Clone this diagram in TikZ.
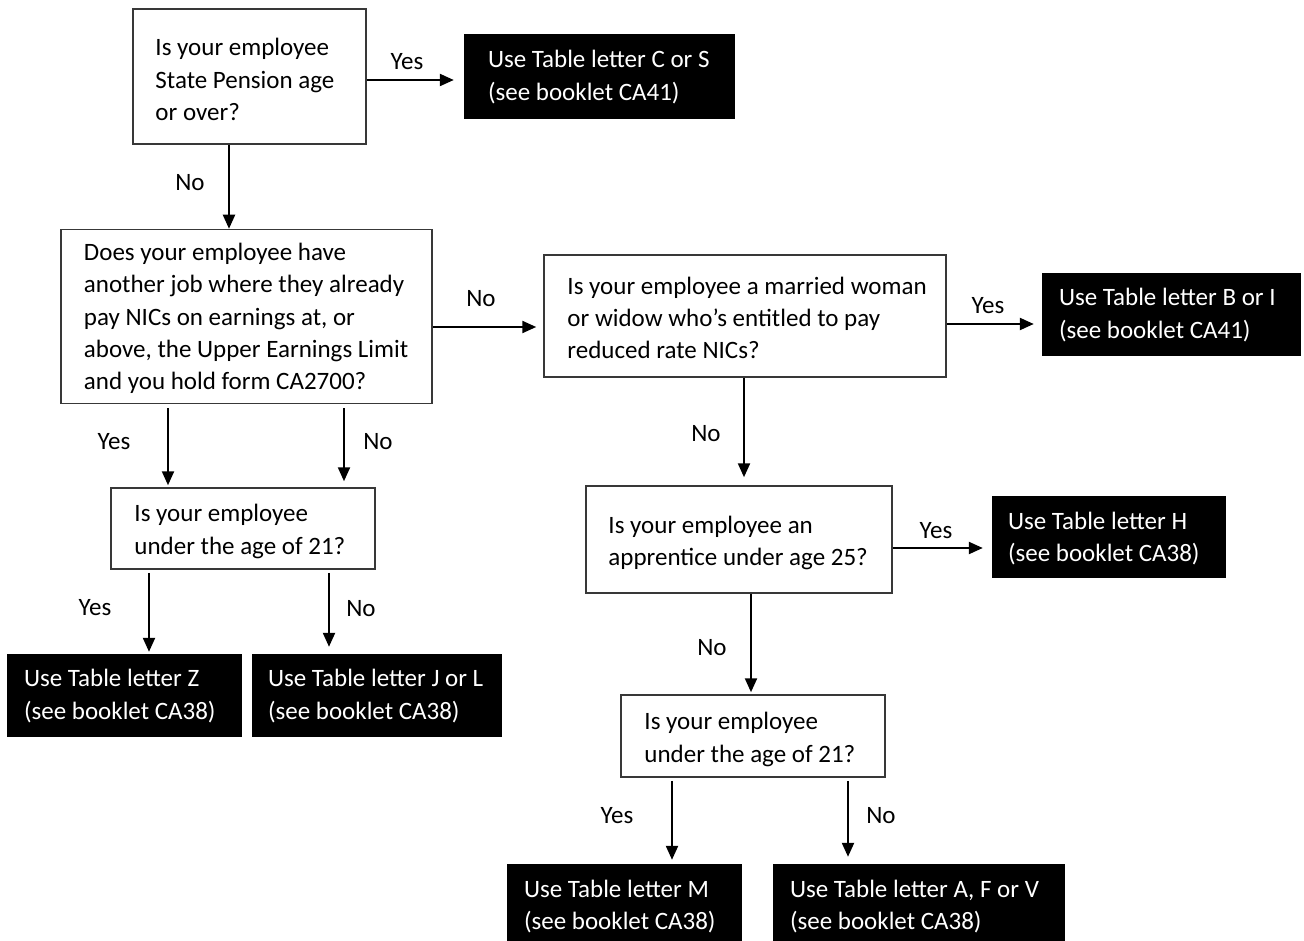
\documentclass[tikz,border=0pt]{standalone}
\usepackage{fontspec}
\setmainfont{Carlito}
\usetikzlibrary{arrows.meta,calc}
\tikzset{
  q/.style={draw=black!78, line width=1.5pt, fill=white, rectangle, inner sep=0pt, anchor=center},
  res/.style={fill=black, rectangle, inner sep=0pt, anchor=center},
  qt/.style={anchor=west, inner sep=0pt, align=left, font=\fontsize{25}{32.3}\selectfont},
  rt/.style={qt, text=white},
  arr/.style={line width=2.2pt, -{Triangle[length=14pt,width=12pt]}},
  lbl/.style={anchor=base, inner sep=0pt, font=\fontsize{25}{30}\selectfont}
}
\begin{document}
\begin{tikzpicture}[x=1pt,y=-1pt]
\clip (0,0) rectangle (1304,941);
\fill[white] (0,0) rectangle (1304,941);
% question boxes
\node[q, minimum width=233pt, minimum height=135pt] (q1) at (249.5,76.5) {};
\node[qt] (t1) at ([xshift=23pt,yshift=-3pt]q1.west) {Is your employee\\State Pension age\\or over?};
\node[q, minimum width=371pt, minimum height=174pt] (q2) at (246.5,316.5) {};
\node[qt] (t2) at ([xshift=23.5pt,yshift=-2pt]q2.west) {Does your employee have\\another job where they already\\pay NICs on earnings at, or\\above, the Upper Earnings Limit\\and you hold form CA2700?};
\node[q, minimum width=402pt, minimum height=122pt] (q3) at (745,316) {};
\node[qt] (t3) at ([xshift=24pt,yshift=-2pt]q3.west) {Is your employee a married woman\\or widow who’s entitled to pay\\reduced rate NICs?};
\node[q, minimum width=306pt, minimum height=107pt] (q4) at (739,539.5) {};
\node[qt] (t4) at ([xshift=23pt,yshift=-3.5pt]q4.west) {Is your employee an\\apprentice under age 25?};
\node[q, minimum width=264pt, minimum height=81pt] (q5) at (243,528.5) {};
\node[qt] (t5) at ([xshift=24pt,yshift=-3pt]q5.west) {Is your employee\\under the age of 21?};
\node[q, minimum width=264pt, minimum height=82pt] (q6) at (753,736) {};
\node[qt] (t6) at ([xshift=24pt,yshift=-3.5pt]q6.west) {Is your employee\\under the age of 21?};
% result boxes
\node[res, minimum width=271pt, minimum height=85pt] (r1) at (599.5,76.5) {};
\node[rt] (u1) at ([xshift=24pt,yshift=-0.5pt]r1.west) {Use Table letter C or S\\(see booklet CA41)};
\node[res, minimum width=259pt, minimum height=83pt] (r2) at (1171.5,314.5) {};
\node[rt] (u2) at ([xshift=17pt,yshift=-0.5pt]r2.west) {Use Table letter B or I\\(see booklet CA41)};
\node[res, minimum width=234pt, minimum height=82pt] (r3) at (1109,537) {};
\node[rt] (u3) at ([xshift=16pt,yshift=-1.5pt]r3.west) {Use Table letter H\\(see booklet CA38)};
\node[res, minimum width=235pt, minimum height=83pt] (r4) at (124.5,695.5) {};
\node[rt] (u4) at ([xshift=17pt,yshift=-0.5pt]r4.west) {Use Table letter Z\\(see booklet CA38)};
\node[res, minimum width=250pt, minimum height=83pt] (r5) at (377,695.5) {};
\node[rt] (u5) at ([xshift=16pt,yshift=-0.5pt]r5.west) {Use Table letter J or L\\(see booklet CA38)};
\node[res, minimum width=235pt, minimum height=85pt] (r6) at (624.5,906.5) {};
\node[rt] (u6) at ([xshift=17pt]r6.west) {Use Table letter M\\(see booklet CA38)};
\node[res, minimum width=292pt, minimum height=85pt] (r7) at (919,906.5) {};
\node[rt] (u7) at ([xshift=17pt]r7.west) {Use Table letter A, F or V\\(see booklet CA38)};
% connectors
\draw[arr, shorten >=10pt] ([yshift=-3.5]q1.east) -- ([yshift=-3.5]q1.east -| r1.west);
\draw[arr] ([xshift=-20.5]q1.south) -- ([xshift=-20.5]q1.south |- q2.north);
\draw[arr, shorten >=7pt] ([yshift=-10.5]q2.east) -- ([yshift=-10.5]q2.east -| q3.west);
\draw[arr, shorten >=8pt] ([yshift=-8]q3.east) -- ([yshift=-8]q3.east -| r2.west);
\draw[arr, shorten >=8pt] ([xshift=-1]q3.south) -- ([xshift=-1]q3.south |- q4.north);
\draw[arr, shorten >=9pt] ([yshift=-8.5]q4.east) -- ([yshift=-8.5]q4.east -| r3.west);
\draw[arr, shorten >=2pt] ([xshift=12]q4.south) -- ([xshift=12]q4.south |- q6.north);
\draw[arr, shorten <=4pt, shorten >=2pt] ([xshift=-78.5]q2.south) -- ([xshift=-78.5]q2.south |- q5.north);
\draw[arr, shorten <=4pt, shorten >=6pt] ([xshift=97.5]q2.south) -- ([xshift=97.5]q2.south |- q5.north);
\draw[arr, shorten <=3pt, shorten >=2pt] ([xshift=-94]q5.south) -- ([xshift=-94]q5.south |- r4.north);
\draw[arr, shorten <=3pt, shorten >=7pt] ([xshift=86]q5.south) -- ([xshift=86]q5.south |- r5.north);
\draw[arr, shorten <=3pt, shorten >=4pt] ([xshift=-81]q6.south) -- ([xshift=-81]q6.south |- r6.north);
\draw[arr, shorten <=3pt, shorten >=7pt] ([xshift=95]q6.south) -- ([xshift=95]q6.south |- r7.north);
% labels
\node[lbl] (l1) at (407,70) {Yes};
\node[lbl] (l2) at (190,191) {No};
\node[lbl] (l3) at (481,307) {No};
\node[lbl] (l4) at (988,314) {Yes};
\node[lbl] (l5) at (706,441) {No};
\node[lbl] (l6) at (936,538) {Yes};
\node[lbl] (l7) at (712,655) {No};
\node[lbl] (l8) at (114,449) {Yes};
\node[lbl] (l9) at (378,449) {No};
\node[lbl] (l10) at (95,615) {Yes};
\node[lbl] (l11) at (361,616) {No};
\node[lbl] (l12) at (617,823) {Yes};
\node[lbl] (l13) at (881,823) {No};
\end{tikzpicture}
\end{document}
